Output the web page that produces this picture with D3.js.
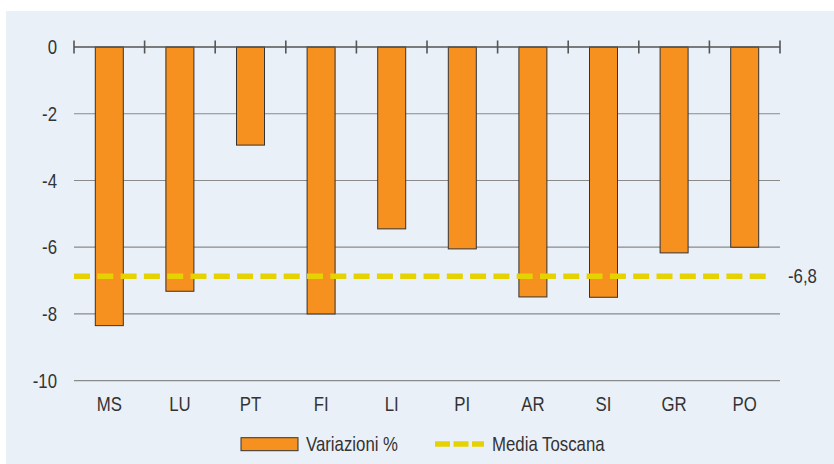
<!DOCTYPE html>
<html><head><meta charset="utf-8">
<script src="https://cdn.jsdelivr.net/npm/d3@7"></script>
<style>html,body{margin:0;padding:0;background:#fff;} svg{display:block;}</style>
</head><body>
<svg id="c" width="834" height="464"></svg>
<script>
const categories = ["MS","LU","PT","FI","LI","PI","AR","SI","GR","PO"];
const values = [-8.35,-7.32,-2.94,-8.0,-5.45,-6.05,-7.49,-7.5,-6.17,-6.0];
const yTicks = [0,-2,-4,-6,-8,-10];
const media = -6.87;
const mediaLabel = "-6,8";
const seriesName = "Variazioni %";
const mediaName = "Media Toscana";

const font = "'Liberation Sans',Arial,sans-serif";
const FS = 20, SX = 0.84;
const svg = d3.select("#c");
svg.append("rect").attr("x",6).attr("y",11).attr("width",828).attr("height",453).attr("fill","#eaf0f8");

const xb = d3.scaleBand().domain(categories).range([74,780]);
const y = d3.scaleLinear().domain([-10,0]).range([380.7,47]);

function label(g, px, py, txt, anchor){
  g.append("text").attr("transform",`translate(${px},${py}) scale(${SX},1)`)
   .attr("dy","0.36em").attr("text-anchor",anchor||"start")
   .attr("font-family",font).attr("font-size",FS).attr("fill","#333").text(txt);
}

// gridlines
svg.append("g").selectAll("line").data(yTicks.filter(d=>d!==0)).join("line")
  .attr("x1",74).attr("x2",780).attr("y1",d=>y(d)).attr("y2",d=>y(d))
  .attr("stroke","#8a8a8a").attr("stroke-width",1.2);

// y labels
const gy = svg.append("g");
yTicks.forEach(d=>label(gy,57,y(d),String(d),"end"));

// bars
svg.append("g").selectAll("rect").data(categories).join("rect")
  .attr("x",(d)=>xb(d)+xb.bandwidth()/2-14).attr("width",28)
  .attr("y",y(0)).attr("height",(d,i)=>y(values[i])-y(0))
  .attr("fill","#f6901e").attr("stroke","#333").attr("stroke-width",1);

// zero axis with ticks
svg.append("line").attr("x1",74).attr("x2",780).attr("y1",y(0)).attr("y2",y(0)).attr("stroke","#555").attr("stroke-width",1.6);
const tickX = categories.map(c=>xb(c)).concat([780]);
svg.append("g").selectAll("line").data(tickX).join("line")
  .attr("x1",d=>d).attr("x2",d=>d).attr("y1",y(0)-6.5).attr("y2",y(0)+6.5)
  .attr("stroke","#555").attr("stroke-width",1.6);

// category labels
const gx = svg.append("g");
categories.forEach(c=>label(gx,xb(c)+xb.bandwidth()/2,404,c,"middle"));

// media line
svg.append("line").attr("x1",74).attr("x2",770).attr("y1",y(media)).attr("y2",y(media))
  .attr("stroke","#e5d200").attr("stroke-width",5.5).attr("stroke-dasharray","16,7.3");
label(svg,788,y(media),mediaLabel);

// legend
svg.append("rect").attr("x",241).attr("y",437.7).attr("width",57).attr("height",13)
  .attr("fill","#f6901e").attr("stroke","#333").attr("stroke-width",1);
label(svg,306,444,seriesName);
svg.append("line").attr("x1",435).attr("x2",484).attr("y1",444).attr("y2",444)
  .attr("stroke","#e5d200").attr("stroke-width",5.5).attr("stroke-dasharray","15,3.5");
label(svg,492,444,mediaName);
</script>
</body></html>
